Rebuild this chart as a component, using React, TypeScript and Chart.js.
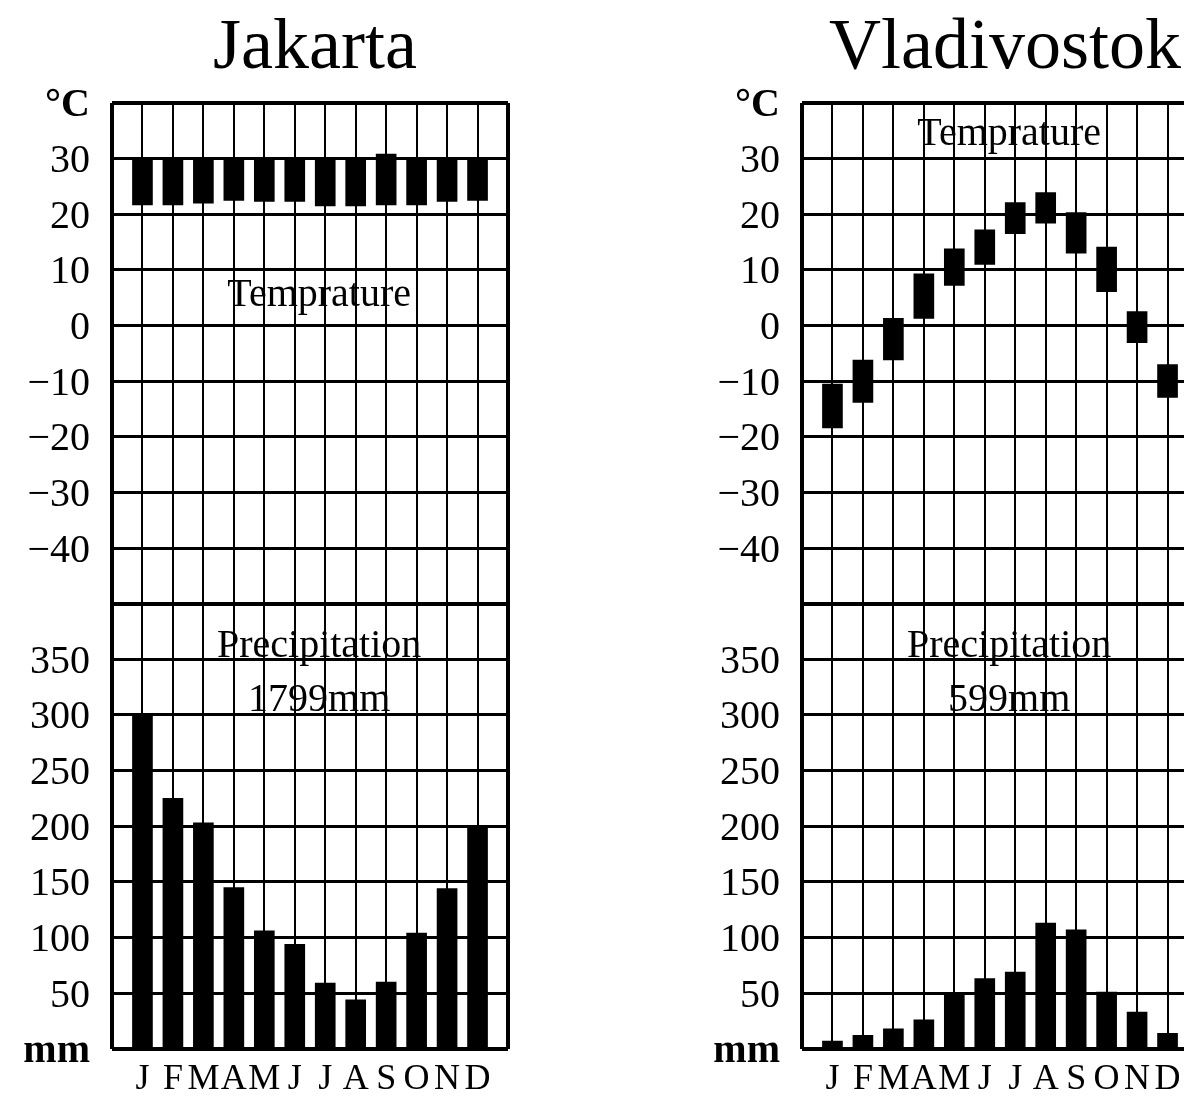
import React, { useEffect, useRef } from "react";
import { Chart, registerables } from "chart.js";

Chart.register(...registerables);

const FONT = '"Liberation Serif", "Times New Roman", Times, serif';

// ---- data ----
const MONTHS = ["J", "F", "M", "A", "M", "J", "J", "A", "S", "O", "N", "D"];

const TEMP_MIN = -50;
const TEMP_MAX = 40;
const TEMP_STEP = 10;
const PRECIP_MIN = 0;
const PRECIP_MAX = 400;
const PRECIP_STEP = 50;

const JAKARTA_TEMP_LOW = [21.7, 21.7, 22.0, 22.5, 22.3, 22.3, 21.5, 21.5, 21.7, 21.7, 22.3, 22.5];
const JAKARTA_TEMP_HIGH = [29.9, 30.0, 29.9, 30.2, 30.2, 30.2, 30.2, 30.2, 30.8, 30.2, 30.2, 30.2];
const JAKARTA_PRECIP = [300, 225, 203, 145, 106, 94, 59, 44, 60, 104, 144, 200];

const VLAD_TEMP_LOW = [-18.4, -13.8, -6.2, 1.3, 7.2, 11.0, 16.5, 18.4, 13.0, 6.1, -3.1, -12.9];
const VLAD_TEMP_HIGH = [-10.5, -6.2, 1.3, 9.3, 13.8, 17.2, 22.1, 23.9, 20.3, 14.1, 2.5, -7.0];
const VLAD_PRECIP = [7, 12, 18, 26, 50, 63, 69, 113, 107, 51, 33, 14];

// ---- panel definitions ----
type City = {
  title: string;
  tempLow: number[];
  tempHigh: number[];
  precip: number[];
  total: string;
  tempLabelAt: number;
};

const JAKARTA: City = {
  title: "Jakarta",
  tempLow: JAKARTA_TEMP_LOW,
  tempHigh: JAKARTA_TEMP_HIGH,
  precip: JAKARTA_PRECIP,
  total: "1799mm",
  tempLabelAt: 3.5,
};

const VLADIVOSTOK: City = {
  title: "Vladivostok",
  tempLow: VLAD_TEMP_LOW,
  tempHigh: VLAD_TEMP_HIGH,
  precip: VLAD_PRECIP,
  total: "599mm",
  tempLabelAt: 32.5,
};

const CANVAS_W = 520;
const CANVAS_H = 1102;

function makeOverlay(city: City) {
  return {
    id: "cityOverlay",
    afterDraw(chart: any) {
      const { ctx, chartArea, scales } = chart;
      ctx.save();
      ctx.fillStyle = "#000";
      ctx.textAlign = "center";
      ctx.textBaseline = "alphabetic";
      // title
      ctx.font = `72px ${FONT}`;
      ctx.fillText(city.title, (chartArea.left + chartArea.right) / 2 + 5, 60);
      // inner labels
      ctx.font = `40px ${FONT}`;
      const cx = scales.x.getPixelForValue(6.8);
      ctx.fillText("Temprature", cx, scales.yT.getPixelForValue(city.tempLabelAt));
      ctx.fillText("Precipitation", cx, scales.yP.getPixelForValue(352));
      ctx.fillText(city.total, cx, scales.yP.getPixelForValue(304));
      ctx.restore();
    },
  };
}

function makeConfig(city: City): any {
  const tempData = MONTHS.map((_, i) => ({ x: i + 1, y: [city.tempLow[i], city.tempHigh[i]] }));
  const precipData = MONTHS.map((_, i) => ({ x: i + 1, y: city.precip[i] }));
  const tickFont = (bold: boolean) => ({ family: FONT, size: 40, weight: bold ? "bold" : "normal" });
  return {
    type: "bar",
    data: {
      datasets: [
        {
          label: "Temperature",
          data: tempData,
          xAxisID: "x",
          yAxisID: "yT",
          backgroundColor: "#000",
          borderWidth: 0,
          barThickness: 20,
          grouped: false,
        },
        {
          label: "Precipitation",
          data: precipData,
          xAxisID: "x",
          yAxisID: "yP",
          backgroundColor: "#000",
          borderWidth: 0,
          barThickness: 20,
          grouped: false,
        },
      ],
    },
    options: {
      animation: false,
      responsive: false,
      maintainAspectRatio: false,
      layout: { padding: { top: 95, right: 20, left: 0, bottom: 0 } },
      plugins: {
        legend: { display: false },
        tooltip: { enabled: false },
      },
      scales: {
        x: {
          type: "linear",
          position: "bottom",
          offset: false,
          min: 0,
          max: MONTHS.length + 1,
          border: { display: false },
          grid: {
            offset: false,
            color: "#000",
            drawTicks: false,
            lineWidth: (c: any) => {
              const v = c.tick?.value;
              return v === 0 || v === MONTHS.length + 1 ? 4 : 2;
            },
          },
          ticks: {
            stepSize: 1,
            autoSkip: false,
            maxRotation: 0,
            padding: 9,
            color: "#000",
            font: { family: FONT, size: 36 },
            callback: (v: number) => MONTHS[v - 1] ?? "",
          },
        },
        yT: {
          type: "linear",
          position: "left",
          stack: "city",
          stackWeight: (TEMP_MAX - TEMP_MIN) / TEMP_STEP,
          weight: 2,
          min: TEMP_MIN,
          max: TEMP_MAX,
          border: { display: false },
          afterFit: (s: any) => {
            s.width = 104;
          },
          grid: {
            color: "#000",
            drawTicks: false,
            lineWidth: (c: any) => {
              const v = c.tick?.value;
              return v === TEMP_MIN || v === TEMP_MAX ? 4 : 3;
            },
          },
          ticks: {
            stepSize: TEMP_STEP,
            autoSkip: false,
            padding: 22,
            labelOffset: 3,
            color: "#000",
            font: (c: any) => tickFont(c.tick?.value === TEMP_MAX),
            callback: (v: number) => {
              if (v === TEMP_MAX) return "°C";
              if (v === TEMP_MIN) return "";
              return v < 0 ? "\u2212" + Math.abs(v) : String(v);
            },
          },
        },
        yP: {
          type: "linear",
          position: "left",
          stack: "city",
          stackWeight: (PRECIP_MAX - PRECIP_MIN) / PRECIP_STEP,
          weight: 1,
          min: PRECIP_MIN,
          max: PRECIP_MAX,
          border: { display: false },
          afterFit: (s: any) => {
            s.width = 104;
          },
          grid: {
            color: "#000",
            drawTicks: false,
            lineWidth: (c: any) => {
              const v = c.tick?.value;
              return v === PRECIP_MIN || v === PRECIP_MAX ? 4 : 3;
            },
          },
          ticks: {
            stepSize: PRECIP_STEP,
            autoSkip: false,
            padding: 22,
            labelOffset: 3,
            color: "#000",
            font: (c: any) => tickFont(c.tick?.value === PRECIP_MIN),
            callback: (v: number) => {
              if (v === PRECIP_MIN) return "mm";
              if (v === PRECIP_MAX) return "";
              return String(v);
            },
          },
        },
      },
    },
    plugins: [makeOverlay(city)],
  };
}

export default function App() {
  const leftRef = useRef<HTMLCanvasElement>(null);
  const rightRef = useRef<HTMLCanvasElement>(null);

  useEffect(() => {
    const charts: Chart[] = [];
    if (leftRef.current) charts.push(new Chart(leftRef.current, makeConfig(JAKARTA)));
    if (rightRef.current) charts.push(new Chart(rightRef.current, makeConfig(VLADIVOSTOK)));
    return () => charts.forEach((c) => c.destroy());
  }, []);

  return (
    <div style={{ position: "relative", width: 1184, height: 1083, overflow: "hidden", background: "#fff" }}>
      <canvas
        ref={leftRef}
        width={CANVAS_W}
        height={CANVAS_H}
        style={{ position: "absolute", left: 0, top: 0, width: CANVAS_W, height: CANVAS_H }}
      />
      <canvas
        ref={rightRef}
        width={CANVAS_W}
        height={CANVAS_H}
        style={{ position: "absolute", left: 690, top: 0, width: CANVAS_W, height: CANVAS_H }}
      />
    </div>
  );
}
